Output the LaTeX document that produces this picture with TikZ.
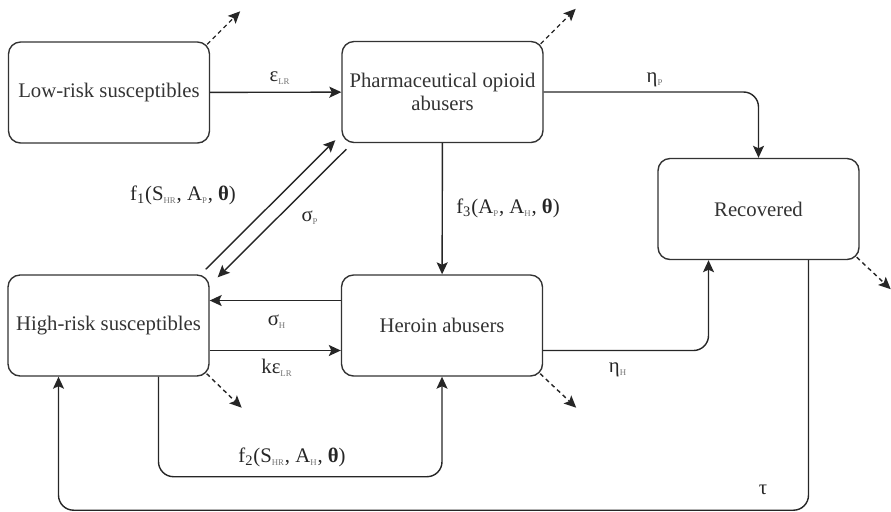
\documentclass[tikz,border=0pt]{standalone}
\usepackage{fontspec}
\setmainfont{Liberation Serif}
\usetikzlibrary{arrows.meta}

\newcommand{\lsub}[1]{\textsubscript{\fontsize{5}{5}\selectfont\color{black!55}#1}}
\newcommand{\bth}{{\bfseries θ}}

\tikzset{
  compartment/.style={draw=black!80, line width=0.8pt, rounded corners=0.24cm,
    minimum width=4.02cm, minimum height=2.02cm, align=center,
    font=\fontsize{11.8}{13}\selectfont, text=black!80},
  flow/.style={draw=black!85, line width=0.8pt, rounded corners=0.3cm,
    -{Stealth[length=2.4mm,width=2.2mm,inset=0.5mm]}},
  loss/.style={flow, dash pattern=on 2.4pt off 2pt},
  rate/.style={font=\fontsize{11.8}{13}\selectfont, text=black!85, inner sep=1pt}
}

\begin{document}
\begin{tikzpicture}[x=0.02cm,y=-0.02cm]
    \useasboundingbox (0,0) rectangle (891,511);
    % compartments
    \node[compartment] (LR) at (109,92.5) {Low-risk susceptibles};
    \node[compartment] (PH) at (442.5,92) {Pharmaceutical opioid\\abusers};
    \node[compartment] (RC) at (758.5,209) {Recovered};
    \node[compartment] (HR) at (108.5,325.5) {High-risk susceptibles};
    \node[compartment] (HE) at (442,325.5) {Heroin abusers};
    % flows between compartments
    \draw[flow] (LR) -- (PH);
    \draw[flow] (PH.east) -| (RC.north);
    \draw[flow] (PH) -- (HE);
    \draw[flow] ([shift={(-4,-5)}]HR.north east) -- ([shift={(-6,-3)}]PH.south west);
    \draw[flow] ([shift={(5,6)}]PH.south west) -- ([shift={(8,3)}]HR.north east);
    \draw[flow] ([yshift=0.5cm]HE.west) -- ([yshift=0.5cm]HR.east);
    \draw[flow] ([yshift=-0.5cm]HR.east) -- ([yshift=-0.5cm]HE.west);
    \draw[flow] ([yshift=-0.5cm]HE.east) -| ([xshift=-1cm]RC.south);
    \draw[flow] ([xshift=1cm]HR.south) -- ++(0,100) -| (HE.south);
    \draw[flow] ([xshift=1cm]RC.south) -- ++(0,250) -| ([xshift=-1cm]HR.south);
    % removal (dashed)
    \coordinate (LRout) at ([shift={(30,-30)}]LR.north east);
    \coordinate (PHout) at ([shift={(32,-32)}]PH.north east);
    \coordinate (RCout) at ([shift={(31,29)}]RC.south east);
    \coordinate (HRout) at ([shift={(32,31)}]HR.south east);
    \coordinate (HEout) at ([shift={(33,31)}]HE.south east);
    \draw[loss] ([shift={(-3,3)}]LR.north east) -- (LRout);
    \draw[loss] ([shift={(-3,3)}]PH.north east) -- (PHout);
    \draw[loss] ([shift={(-3,-3)}]RC.south east) -- (RCout);
    \draw[loss] ([shift={(-3,-3)}]HR.south east) -- (HRout);
    \draw[loss] ([shift={(-3,-3)}]HE.south east) -- (HEout);
    % rates
    \node[rate] (epsLR) at (280,78) {ε\lsub{LR}};
    \node[rate] (etaP) at (655,80) {η\lsub{P}};
    \node[rate] (fthree) at (508,208) {f\textsubscript{3}(A\lsub{P}, A\lsub{H}, \bth)};
    \node[rate] (fone) at (183,195) {f\textsubscript{1}(S\lsub{HR}, A\lsub{P}, \bth)};
    \node[rate] (sigP) at (310,218) {σ\lsub{P}};
    \node[rate] (sigH) at (277,322) {σ\lsub{H}};
    \node[rate] (kepsLR) at (277,368) {kε\lsub{LR}};
    \node[rate] (etaH) at (618,370) {η\lsub{H}};
    \node[rate] (ftwo) at (292,457) {f\textsubscript{2}(S\lsub{HR}, A\lsub{H}, \bth)};
    \node[rate] (tau) at (763,490) {τ};
\end{tikzpicture}
\end{document}
